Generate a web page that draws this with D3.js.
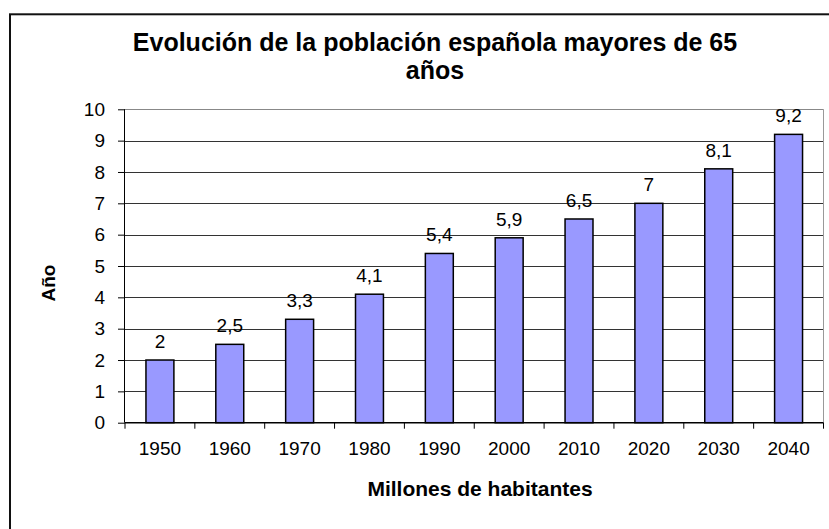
<!DOCTYPE html>
<html><head><meta charset="utf-8">
<script src="https://cdn.jsdelivr.net/npm/d3@7"></script>
<style>html,body{margin:0;padding:0;background:#fff;}svg{display:block;font-family:"Liberation Sans",Arial,sans-serif;}</style>
</head><body>
<svg id="c" width="829" height="529"></svg>
<script>
const categories = ["1950","1960","1970","1980","1990","2000","2010","2020","2030","2040"];
const values = [2, 2.5, 3.3, 4.1, 5.4, 5.9, 6.5, 7, 8.1, 9.2];
const valueLabels = ["2","2,5","3,3","4,1","5,4","5,9","6,5","7","8,1","9,2"];
const yTicks = [0,1,2,3,4,5,6,7,8,9,10];
const titleLines = ["Evolución de la población española mayores de 65", "años"];
const xTitle = "Millones de habitantes";
const yTitle = "Año";

const svg = d3.select("#c");
const L = 125, R = 823.5, T = 109.3, B = 422.7;
const FONT = "Liberation Sans, Arial, sans-serif";

svg.append("rect").attr("x",10).attr("y",14.3).attr("width",900).attr("height",700)
  .attr("fill","#fff").attr("stroke","#111").attr("stroke-width",2);

const x = d3.scaleBand().domain(categories).range([L,R]).paddingInner(0.6).paddingOuter(0.3);
const y = d3.scaleLinear().domain([0,10]).range([B,T]);

// gridlines
svg.append("g").selectAll("line").data(yTicks.slice(1)).join("line")
  .attr("x1",L).attr("x2",R).attr("y1",d=>Math.round(y(d))+0.5).attr("y2",d=>Math.round(y(d))+0.5)
  .attr("stroke",d=>d===10?"#888":"#333").attr("stroke-width",1);
// right edge
svg.append("line").attr("x1",R).attr("x2",R).attr("y1",T).attr("y2",B).attr("stroke","#999");

// bars
svg.append("g").selectAll("rect").data(values).join("rect")
  .attr("x",(d,i)=>x(categories[i])).attr("width",x.bandwidth())
  .attr("y",d=>y(d)).attr("height",d=>B-y(d))
  .attr("fill","#9999FF").attr("stroke","#000").attr("stroke-width",1.5);

// data labels
svg.append("g").selectAll("text").data(values).join("text")
  .attr("x",(d,i)=>x(categories[i])+x.bandwidth()/2).attr("y",d=>y(d)-12)
  .attr("text-anchor","middle").attr("font-size",19).attr("fill","#000")
  .text((d,i)=>valueLabels[i]);

// y axis
const ya = d3.axisLeft(y).tickValues(yTicks).tickSize(7).tickPadding(13).tickFormat(d3.format("d"));
const gy = svg.append("g").attr("transform",`translate(${L},0)`).call(ya);
gy.select(".domain").attr("stroke","#000").attr("d",`M-0.5,${T}V${B}`);
gy.selectAll(".tick line").attr("stroke","#000");
gy.selectAll("text").attr("font-size",19).attr("fill","#000").attr("font-family",FONT);

// x axis with ticks at boundaries
const bx = d3.scaleLinear().domain([0,categories.length]).range([L,R]);
const gx = svg.append("g").attr("transform",`translate(0,${B})`);
gx.append("line").attr("x1",L).attr("x2",R).attr("y1",0).attr("y2",0).attr("stroke","#000").attr("stroke-width",1.5);
gx.selectAll("line.t").data(d3.range(categories.length+1)).join("line").attr("class","t")
  .attr("x1",d=>bx(d)).attr("x2",d=>bx(d)).attr("y1",0).attr("y2",6).attr("stroke","#000");
const xa = d3.axisBottom(x).tickSize(0).tickPadding(19);
const gx2 = svg.append("g").attr("transform",`translate(0,${B})`).call(xa);
gx2.select(".domain").remove();
gx2.selectAll("text").attr("font-size",19).attr("fill","#000").attr("font-family",FONT);

// titles
const tt = svg.append("text").attr("text-anchor","middle").attr("font-size",25).attr("font-weight","bold");
titleLines.forEach((t,i)=>tt.append("tspan").attr("x",435).attr("y",51+i*28).text(t));
svg.append("text").attr("x",480).attr("y",496).attr("text-anchor","middle")
  .attr("font-size",21).attr("font-weight","bold").text(xTitle);
svg.append("text").attr("transform","translate(55,283) rotate(-90)").attr("text-anchor","middle")
  .attr("font-size",19).attr("font-weight","bold").text(yTitle);
</script>
</body></html>
